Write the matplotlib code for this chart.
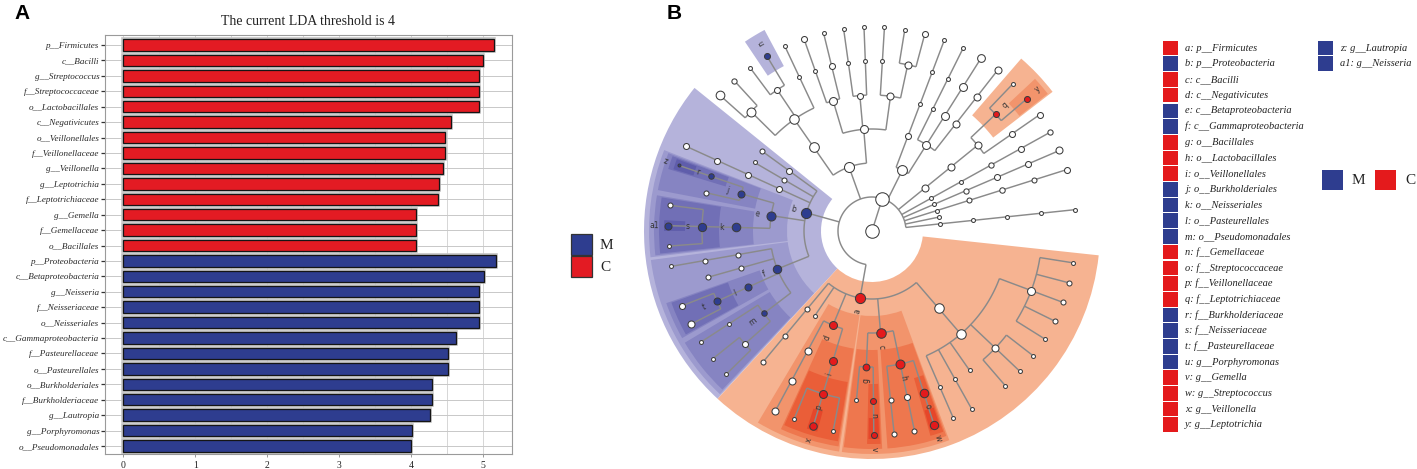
import numpy as np
import matplotlib
matplotlib.use("Agg")
import matplotlib.pyplot as plt
from matplotlib.patches import Wedge, Rectangle
from matplotlib.collections import LineCollection

W, H, DPI = 1417, 469, 100

# ---------------- Panel A data ----------------
lda_title = "The current LDA threshold is 4"
bar_labels = [
    "p__Firmicutes", "c__Bacilli", "g__Streptococcus", "f__Streptococcaceae",
    "o__Lactobacillales", "c__Negativicutes", "o__Veillonellales", "f__Veillonellaceae",
    "g__Veillonella", "g__Leptotrichia", "f__Leptotrichiaceae", "g__Gemella",
    "f__Gemellaceae", "o__Bacillales",
    "p__Proteobacteria", "c__Betaproteobacteria", "g__Neisseria", "f__Neisseriaceae",
    "o__Neisseriales", "c__Gammaproteobacteria", "f__Pasteurellaceae", "o__Pasteurellales",
    "o__Burkholderiales", "f__Burkholderiaceae", "g__Lautropia", "g__Porphyromonas",
    "o__Pseudomonadales",
]
bar_values = [
    5.15, 5.00, 4.95, 4.95, 4.95, 4.56, 4.48, 4.48, 4.45, 4.39, 4.37, 4.07, 4.07, 4.07,
    5.19, 5.02, 4.95, 4.95, 4.95, 4.63, 4.52, 4.52, 4.30, 4.30, 4.26, 4.02, 4.00,
]
bar_groups = ["C"] * 14 + ["M"] * 13
lda_ticks = [0, 1, 2, 3, 4, 5]
group_names = ["M", "C"]
group_colors = {"M": "#2E3D8F", "C": "#E31B23"}

# ---------------- Panel B data (cladogram) ----------------
kingdom = "k__Bacteria"
leaf_lineages = [
    "p__Spirochaetes|c__Spirochaetia|o__Spirochaetales|f__Spirochaetaceae|g__Treponema",
    "p__Tenericutes",
    "p__Saccharibacteria|c__TM7_c|o__TM7_o|f__TM7_f|g__TM7x",
    "p__Absconditabacteria|c__SR1_c|o__SR1_o|f__SR1_f|g__SR1_g",
    "p__Synergistetes|c__Synergistia|o__Synergistales|f__Synergistaceae|g__Fretibacterium",
    "p__Fusobacteria|c__Fusobacteriia|o__Fusobacteriales|f__Fusobacteriaceae|g__Fusobacterium",
    "p__Fusobacteria|c__Fusobacteriia|o__Fusobacteriales|f__Leptotrichiaceae|g__Leptotrichia",
    "p__Fusobacteria|c__Fusobacteriia|o__Fusobacteriales|f__Leptotrichiaceae|g__Sneathia",
    "p__Actinobacteria|c__Actinobacteria|o__Actinomycetales|f__Actinomycetaceae|g__Actinomyces",
    "p__Actinobacteria|c__Actinobacteria|o__Micrococcales|f__Micrococcaceae|g__Rothia",
    "p__Actinobacteria|c__Actinobacteria|o__Corynebacteriales|f__Corynebacteriaceae|g__Corynebacterium",
    "p__Actinobacteria|c__Coriobacteriia|o__Coriobacteriales|f__Atopobiaceae|g__Atopobium",
    "p__Bacteroidetes|c__Flavobacteriia|o__Flavobacteriales|f__Flavobacteriaceae|g__Capnocytophaga",
    "p__Bacteroidetes|c__Flavobacteriia|o__Flavobacteriales|f__Flavobacteriaceae|g__Bergeyella",
    "p__Bacteroidetes|c__Flavobacteriia|o__Flavobacteriales|f__Weeksellaceae|g__Chryseobacterium",
    "p__Bacteroidetes|c__Flavobacteriia|o__Sphingobacteriales|f__Sphingobacteriaceae|g__Sphingobacterium",
    "p__Bacteroidetes|c__Flavobacteriia|o__Sphingobacteriales|f__Chitinophagaceae|g__Sediminibacterium",
    "p__Bacteroidetes|c__Flavobacteriia|o__Cytophagales|f__Cytophagaceae|g__Dyadobacter",
    "p__Bacteroidetes|c__Flavobacteriia|o__Cytophagales|f__Cyclobacteriaceae|g__Algoriphagus",
    "p__Bacteroidetes|c__Bacteroidia|o__Bacteroidales|f__Rikenellaceae|g__Alistipes",
    "p__Bacteroidetes|c__Bacteroidia|o__Bacteroidales|f__Porphyromonadaceae|g__Porphyromonas",
    "p__Bacteroidetes|c__Bacteroidia|o__Bacteroidales|f__Porphyromonadaceae|g__Tannerella",
    "p__Bacteroidetes|c__Bacteroidia|o__Bacteroidales|f__Prevotellaceae|g__Alloprevotella",
    "p__Bacteroidetes|c__Bacteroidia|o__Bacteroidales|f__Prevotellaceae|g__Prevotella",
    "p__Proteobacteria|c__Alphaproteobacteria|o__Rhizobiales",
    "p__Proteobacteria|c__Deltaproteobacteria|o__Desulfobacterales",
    "p__Proteobacteria|c__Epsilonproteobacteria|o__Campylobacterales|f__Campylobacteraceae|g__Campylobacter",
    "p__Proteobacteria|c__Betaproteobacteria|o__Burkholderiales|f__Burkholderiaceae|g__Lautropia",
    "p__Proteobacteria|c__Betaproteobacteria|o__Burkholderiales|f__Comamonadaceae",
    "p__Proteobacteria|c__Betaproteobacteria|o__Neisseriales|f__Neisseriaceae|g__Kingella",
    "p__Proteobacteria|c__Betaproteobacteria|o__Neisseriales|f__Neisseriaceae|g__Neisseria",
    "p__Proteobacteria|c__Betaproteobacteria|o__Neisseriales|f__Neisseriaceae|g__Eikenella",
    "p__Proteobacteria|c__Gammaproteobacteria|o__Cardiobacteriales|f__Cardiobacteriaceae|g__Cardiobacterium",
    "p__Proteobacteria|c__Gammaproteobacteria|o__Enterobacteriales|f__Enterobacteriaceae",
    "p__Proteobacteria|c__Gammaproteobacteria|o__Pasteurellales|f__Pasteurellaceae|g__Haemophilus",
    "p__Proteobacteria|c__Gammaproteobacteria|o__Pasteurellales|f__Pasteurellaceae|g__Aggregatibacter",
    "p__Proteobacteria|c__Gammaproteobacteria|o__Pseudomonadales|f__Pseudomonadaceae|g__Pseudomonas",
    "p__Proteobacteria|c__Gammaproteobacteria|o__Pseudomonadales|f__Moraxellaceae|g__Acinetobacter",
    "p__Proteobacteria|c__Gammaproteobacteria|o__Pseudomonadales|f__Moraxellaceae|g__Moraxella",
    "p__Firmicutes|c__Erysipelotrichia|o__Erysipelotrichales|f__Erysipelotrichaceae",
    "p__Firmicutes|c__Tissierellia",
    "p__Firmicutes|c__Negativicutes|o__Selenomonadales|f__Selenomonadaceae|g__Selenomonas",
    "p__Firmicutes|c__Negativicutes|o__Veillonellales|f__Veillonellaceae|g__Megasphaera",
    "p__Firmicutes|c__Negativicutes|o__Veillonellales|f__Veillonellaceae|g__Veillonella",
    "p__Firmicutes|c__Negativicutes|o__Veillonellales|f__Veillonellaceae|g__Dialister",
    "p__Firmicutes|c__Bacilli|o__Bacillales|f__Staphylococcaceae",
    "p__Firmicutes|c__Bacilli|o__Bacillales|f__Gemellaceae|g__Gemella",
    "p__Firmicutes|c__Bacilli|o__Lactobacillales|f__Carnobacteriaceae|g__Granulicatella",
    "p__Firmicutes|c__Bacilli|o__Lactobacillales|f__Lactobacillaceae|g__Lactobacillus",
    "p__Firmicutes|c__Bacilli|o__Lactobacillales|f__Streptococcaceae|g__Streptococcus",
    "p__Firmicutes|c__Clostridia|o__Clostridiales|f__Peptococcaceae|g__Peptococcus",
    "p__Firmicutes|c__Clostridia|o__Clostridiales|f__Peptostreptococcaceae|g__Peptostreptococcus",
    "p__Firmicutes|c__Clostridia|o__Clostridiales|f__Family_XI",
    "p__Firmicutes|c__Clostridia|o__Clostridiales|f__Lachnospiraceae|g__Oribacterium",
    "p__Firmicutes|c__Clostridia|o__Clostridiales|f__Lachnospiraceae|g__Stomatobaculum",
    "p__Firmicutes|c__Clostridia|o__Clostridiales|f__Lachnospiraceae|g__Catonella",
    "p__Firmicutes|c__Clostridia|o__Clostridiales|f__Ruminococcaceae|g__Ruminococcus",
    "p__Firmicutes|c__Clostridia|o__Clostridiales|f__Ruminococcaceae|g__Oscillibacter",
    "p__Firmicutes|c__Clostridia|o__Clostridiales|f__Ruminococcaceae|g__Faecalibacterium",
    "p__Firmicutes|c__Clostridia|o__Clostridiales|f__Ruminococcaceae|g__Subdoligranulum",
    "p__Firmicutes|c__Clostridia|o__Clostridiales|f__Ruminococcaceae|g__Ruminiclostridium",
]
# relative abundance (%) -> node size
node_abundance = {
    "root": 100, "k__Bacteria": 100,
    "p__Firmicutes": 4.5, "p__Proteobacteria": 4.5, "p__Bacteroidetes": 4.0, "p__Actinobacteria": 3.5,
    "p__Fusobacteria": 0.25, "c__Fusobacteriia": 0.25, "o__Fusobacteriales": 0.25,
    "f__Fusobacteriaceae": 0.1, "g__Fusobacterium": 0.1, "f__Leptotrichiaceae": 0.1, "g__Leptotrichia": 0.1,
    "g__TM7x": 0.1, "f__TM7_f": 0.04, "o__TM7_o": 0.06, "c__TM7_c": 0.04,
    "g__SR1_g": 0.25, "f__SR1_f": 0.1, "o__SR1_o": 0.1, "c__SR1_c": 0.05,
    "g__Fretibacterium": 0.05, "f__Synergistaceae": 0.1, "o__Synergistales": 0.05,
    "c__Actinobacteria": 0.6, "o__Actinomycetales": 0.25, "f__Actinomycetaceae": 0.25, "g__Actinomyces": 0.25,
    "o__Micrococcales": 0.6, "f__Micrococcaceae": 0.6, "g__Rothia": 0.5, "c__Coriobacteriia": 0.1,
    "c__Flavobacteriia": 0.6, "o__Flavobacteriales": 0.25, "f__Flavobacteriaceae": 0.25,
    "g__Capnocytophaga": 0.1, "o__Sphingobacteriales": 0.1, "o__Cytophagales": 0.6,
    "f__Cytophagaceae": 0.1, "g__Algoriphagus": 0.1,
    "c__Bacteroidia": 3.0, "o__Bacteroidales": 2.5, "f__Prevotellaceae": 1.5, "g__Prevotella": 1.2,
    "g__Alloprevotella": 0.05, "f__Porphyromonadaceae": 0.1, "g__Porphyromonas": 0.1,
    "c__Alphaproteobacteria": 0.1, "o__Rhizobiales": 0.04, "c__Deltaproteobacteria": 0.04,
    "c__Epsilonproteobacteria": 0.1, "o__Campylobacterales": 0.1, "f__Campylobacteraceae": 0.1,
    "g__Campylobacter": 0.1,
    "c__Betaproteobacteria": 1.6, "o__Burkholderiales": 0.25, "f__Burkholderiaceae": 0.06,
    "g__Lautropia": 0.006, "f__Comamonadaceae": 0.04, "o__Neisseriales": 1.0, "f__Neisseriaceae": 0.8,
    "g__Neisseria": 0.25, "g__Kingella": 0.04,
    "c__Gammaproteobacteria": 0.9, "o__Cardiobacteriales": 0.04, "f__Cardiobacteriaceae": 0.04,
    "o__Enterobacteriales": 0.04, "f__Enterobacteriaceae": 0.04, "o__Pasteurellales": 0.25,
    "f__Pasteurellaceae": 0.25, "g__Haemophilus": 0.1, "g__Aggregatibacter": 0.25,
    "o__Pseudomonadales": 0.06, "f__Moraxellaceae": 0.1,
    "c__Erysipelotrichia": 0.04, "o__Erysipelotrichales": 0.04, "f__Erysipelotrichaceae": 0.04,
    "c__Negativicutes": 0.6, "o__Selenomonadales": 0.25, "f__Selenomonadaceae": 0.25, "g__Selenomonas": 0.25,
    "o__Veillonellales": 0.6, "f__Veillonellaceae": 0.6, "g__Veillonella": 0.4,
    "c__Bacilli": 2.5, "o__Bacillales": 0.2, "f__Gemellaceae": 0.1, "g__Gemella": 0.1,
    "o__Lactobacillales": 1.5, "f__Carnobacteriaceae": 0.04, "g__Granulicatella": 0.04,
    "f__Lactobacillaceae": 0.1, "g__Lactobacillus": 0.04, "f__Streptococcaceae": 1.0, "g__Streptococcus": 0.8,
    "c__Clostridia": 2.5, "o__Clostridiales": 2.5, "f__Lachnospiraceae": 0.25, "f__Ruminococcaceae": 0.6,
    "g__Oscillibacter": 0.04, "g__Faecalibacterium": 0.04, "g__Subdoligranulum": 0.04,
}
default_abundance = 0.015
# enriched clades: (letter, taxon, group)
enriched = [
    ("a", "p__Firmicutes", "C"), ("b", "p__Proteobacteria", "M"), ("c", "c__Bacilli", "C"),
    ("d", "c__Negativicutes", "C"), ("e", "c__Betaproteobacteria", "M"),
    ("f", "c__Gammaproteobacteria", "M"), ("g", "o__Bacillales", "C"),
    ("h", "o__Lactobacillales", "C"), ("i", "o__Veillonellales", "C"),
    ("j", "o__Burkholderiales", "M"), ("k", "o__Neisseriales", "M"),
    ("l", "o__Pasteurellales", "M"), ("m", "o__Pseudomonadales", "M"),
    ("n", "f__Gemellaceae", "C"), ("o", "f__Streptococcaceae", "C"),
    ("p", "f__Veillonellaceae", "C"), ("q", "f__Leptotrichiaceae", "C"),
    ("r", "f__Burkholderiaceae", "M"), ("s", "f__Neisseriaceae", "M"),
    ("t", "f__Pasteurellaceae", "M"), ("u", "g__Porphyromonas", "M"),
    ("v", "g__Gemella", "C"), ("w", "g__Streptococcus", "C"), ("x", "g__Veillonella", "C"),
    ("y", "g__Leptotrichia", "C"), ("z", "g__Lautropia", "M"), ("a1", "g__Neisseria", "M"),
]

# ---------------- styling / layout ----------------
SERIF = "Liberation Serif"
SANS = "Liberation Sans"
node_colors = {"M": "#2E3D8F", "C": "#E41A1C"}
shade_colors = {
    "C": ["#F6B391", "#F2946C", "#EE774E", "#EA5E38", "#E6462A"],
    "M": ["#B5B3DB", "#9C9ACE", "#8684C2", "#716FB6", "#5F5DAB"],
}

fig = plt.figure(figsize=(W / DPI, H / DPI), dpi=DPI)
fig.patch.set_facecolor("white")

# overlay axes in pixel coordinates (y up)
ov = fig.add_axes([0, 0, 1, 1])
ov.set_xlim(0, W)
ov.set_ylim(0, H)
ov.axis("off")


def Y(ytop):
    return H - ytop


# ---------------- Panel A ----------------
ax = fig.add_axes([105 / W, (H - 454) / H, 407 / W, 419 / H])
n = len(bar_values)
ypos = np.arange(n)
cols = [group_colors[g] for g in bar_groups]
ax.barh(ypos, bar_values, height=0.74, color=cols, edgecolor="#c2c2c2", linewidth=2.6, zorder=2)
ax.barh(ypos, bar_values, height=0.74, color=cols, edgecolor="#151515", linewidth=0.9, zorder=3)
ax.set_xlim(-0.255, 5.406)
ax.set_ylim(26.52, -0.65)
ax.set_yticks(ypos)
ax.set_yticklabels(bar_labels, fontfamily=SERIF, fontstyle="italic", fontsize=6.6, color="#2a2a2a")
ax.set_xticks(lda_ticks)
ax.set_xticklabels([str(t) for t in lda_ticks], fontfamily=SERIF, fontsize=7, color="#222")
ax.set_xticks(np.arange(0.5, 5.5, 1.0), minor=True)
ax.grid(which="both", axis="x", color="#d6d6d6", lw=0.7, zorder=0)
ax.grid(which="major", axis="y", color="#c8c8c8", lw=0.7, zorder=0)
ax.set_axisbelow(True)
ax.tick_params(axis="y", length=3, width=0.9, color="#333", pad=1.2)
ax.tick_params(axis="x", which="major", length=2, width=0.6, color="#888", pad=3)
ax.tick_params(axis="x", which="minor", length=0)
for sp in ax.spines.values():
    sp.set_color("#9a9a9a")
    sp.set_linewidth(0.8)

ov.text(308, Y(21), lda_title, fontfamily=SERIF, fontsize=10, ha="center", va="center", color="#222")
ov.text(14, Y(4), "A", fontfamily=SANS, fontweight="bold", fontsize=15, ha="left", va="top")
ov.text(667, Y(4), "B", fontfamily=SANS, fontweight="bold", fontsize=15, ha="left", va="top")

# legend A
for i, g in enumerate(group_names):
    y0 = 234 + i * 22
    ov.add_patch(Rectangle((571, Y(y0 + 21)), 21, 21, facecolor=group_colors[g],
                           edgecolor="#333", lw=0.9))
    ov.text(600, Y(y0 + 11), g, fontfamily=SERIF, fontsize=11, ha="left", va="center", color="#222")

# ---------------- Panel B : cladogram ----------------
cx, cy = 872, Y(231)
ring = 34
theta0, step = 6.0, 5.75

nodes = {"root": {"children": [], "level": 0}}
for lin in leaf_lineages:
    parts = [kingdom] + lin.split("|")
    parent = "root"
    for i in range(len(parts)):
        path = "|".join(parts[: i + 1])
        if path not in nodes:
            nodes[path] = {"children": [], "level": i + 1}
            nodes[parent]["children"].append(path)
        parent = path

ang = {}
leaf_idx = [0]


def layout(p):
    ch = nodes[p]["children"]
    if not ch:
        ang[p] = theta0 + leaf_idx[0] * step
        leaf_idx[0] += 1
    else:
        for c in ch:
            layout(c)
        ang[p] = float(np.mean([ang[c] for c in ch]))


layout("root")


def short(p):
    return p.split("|")[-1]


def pos(r, a):
    t = np.radians(a)
    return cx + r * np.cos(t), cy + r * np.sin(t)


def leaf_angles(p):
    ch = nodes[p]["children"]
    if not ch:
        return [ang[p]]
    out = []
    for c in ch:
        out += leaf_angles(c)
    return out


enr = {t: (letter, g) for letter, t, g in enriched}

# shaded wedges
wedges = []
for p in nodes:
    s = short(p)
    if s not in enr:
        continue
    parts = p.split("|")
    nest = sum(1 for k in range(1, len(parts) + 1) if parts[k - 1] in enr)
    lvl = nodes[p]["level"]
    la = leaf_angles(p)
    inset = 0.35 * (nest - 1)
    a1 = min(la) - step / 2 + inset
    a2 = max(la) + step / 2 - inset
    r_in = ring * lvl - 17
    r_out = 228 - 5 * (nest - 1)
    wedges.append((nest, Wedge((cx, cy), r_out, a1, a2, width=r_out - r_in,
                               facecolor=shade_colors[enr[s][1]][nest - 1], edgecolor="none", zorder=1)))
for nest, wdg in sorted(wedges, key=lambda z: z[0]):
    ov.add_patch(wdg)

# branches
segs = []
for p, nd in nodes.items():
    ch = nd["children"]
    if not ch:
        continue
    rp = ring * nd["level"]
    angs = [ang[c] for c in ch]
    if rp > 0 and max(angs) > min(angs):
        t = np.radians(np.linspace(min(angs), max(angs), 300))
        segs.append(np.column_stack([cx + rp * np.cos(t), cy + rp * np.sin(t)]))
    for c in ch:
        rc = ring * nodes[c]["level"]
        segs.append([pos(rp, ang[c]), pos(rc, ang[c])])
ov.add_collection(LineCollection(segs, colors="#8a8a8a", linewidths=1.05, zorder=2))

# nodes
for p, nd in nodes.items():
    s = short(p)
    ab = node_abundance.get(s, default_abundance)
    dpx = 3.5 + 2.5 * np.log10(max(ab, 0.005) / 0.01)
    x, y = pos(ring * nd["level"], ang[p]) if nd["level"] > 0 else (cx, cy)
    fc = node_colors[enr[s][1]] if s in enr else "white"
    ov.scatter([x], [y], s=(dpx * 0.72) ** 2, facecolor=fc, edgecolor="#3c3c3c",
               linewidths=0.75, zorder=3)
    if s in enr:
        lx, ly = pos(ring * nd["level"] + 14, ang[p])
        a = (ang[p] + 180) % 360 - 180
        rot = a if -90 < a <= 90 else a - 180
        ov.text(lx, ly, enr[s][0], fontfamily="DejaVu Sans", fontsize=5.5, color="#333",
                rotation=rot, ha="center", va="center", zorder=4)

# legend B
row_h = 15.7
for i, (letter, taxon, g) in enumerate(enriched):
    col = 0 if i < 25 else 1
    row = i if i < 25 else i - 25
    xs = 1163 if col == 0 else 1318
    yc = 48 + row * row_h
    ov.add_patch(Rectangle((xs, Y(yc + 7.3)), 15, 14.6, facecolor=node_colors[g], edgecolor="none"))
    ov.text(xs + 22, Y(yc), f"{letter}: {taxon}", fontfamily=SERIF, fontstyle="italic",
            fontsize=7.5, ha="left", va="center", color="#222")

for i, g in enumerate(group_names):
    x0 = 1322 + i * 53
    ov.add_patch(Rectangle((x0, Y(190)), 21, 20, facecolor=node_colors[g], edgecolor="none"))
    ov.text(x0 + 30, Y(180), g, fontfamily=SERIF, fontsize=11, ha="left", va="center", color="#222")

fig.savefig("out.png", dpi=DPI, facecolor="white")
